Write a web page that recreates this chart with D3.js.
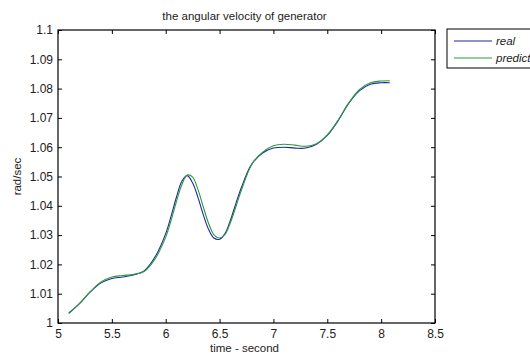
<!DOCTYPE html>
<html>
<head>
<meta charset="utf-8">
<script src="https://cdn.jsdelivr.net/npm/d3@7"></script>
<style>
	body { margin: 0; background: #fff; }
	svg { display: block; font-family: "Liberation Sans", Arial, sans-serif; }
</style>
</head>
<body>
<div id="chart"></div>
<script>
	'use strict';

	var time = [5.1, 5.2, 5.3, 5.4, 5.5, 5.6, 5.7, 5.8, 5.9, 6.0, 6.05, 6.1, 6.15, 6.2, 6.25,
		6.3, 6.35, 6.4, 6.45, 6.5, 6.55, 6.6, 6.7, 6.8, 6.9, 7.0, 7.1, 7.2, 7.3, 7.4,
		7.5, 7.6, 7.7, 7.8, 7.9, 8.0, 8.08];

	var real = [1.0034, 1.0066, 1.0106, 1.0137, 1.0152, 1.0157, 1.0164, 1.0178, 1.0225, 1.0305, 1.0365, 1.0430, 1.0484, 1.0503, 1.0478,
		1.0428, 1.0368, 1.0318, 1.0289, 1.0286, 1.0305, 1.0350, 1.0460, 1.0543, 1.0580, 1.0597, 1.0600, 1.0597, 1.0597, 1.0610,
		1.0640, 1.0690, 1.0750, 1.0793, 1.0815, 1.0820, 1.0820];

	var predict = [1.0032, 1.0067, 1.0107, 1.0140, 1.0157, 1.0162, 1.0166, 1.0176, 1.0218, 1.0293, 1.0350, 1.0415, 1.0472, 1.0505, 1.0498,
		1.0455, 1.0395, 1.0338, 1.0300, 1.0290, 1.0302, 1.0342, 1.0450, 1.0542, 1.0583, 1.0605, 1.0610, 1.0607, 1.0603, 1.0612,
		1.0642, 1.0692, 1.0752, 1.0797, 1.0820, 1.0826, 1.0827];

	var xTicks = [5, 5.5, 6, 6.5, 7, 7.5, 8, 8.5];
	var yTicks = [1, 1.01, 1.02, 1.03, 1.04, 1.05, 1.06, 1.07, 1.08, 1.09, 1.1];

	var series = [
		{name: 'real', values: real, color: '#1c2a9c'},
		{name: 'predict', values: predict, color: '#2f9a3c'}
	];

	var margin = {top: 30, right: 95, bottom: 33, left: 58};
	var width = 530, height = 356;
	var w = width - margin.left - margin.right,
		h = height - margin.top - margin.bottom;

	var svg = d3.select('#chart')
		.append('svg')
		.attr('width', width)
		.attr('height', height);

	var x = d3.scaleLinear().domain([5, 8.5]).range([0, w]);
	var y = d3.scaleLinear().domain([1, 1.1]).range([h, 0]);

	var cont = svg.append('g')
		.attr('transform', 'translate(' + margin.left + ',' + margin.top + ')');

	// matlab style: ticks inward on all four sides
	function styleAxis(g) {
		g.select('.domain').remove();
		g.selectAll('line').attr('stroke', '#000');
		g.selectAll('text').attr('fill', '#222').style('font-size', '12px');
	}

	cont.append('g')
		.attr('transform', 'translate(0,' + h + ')')
		.call(d3.axisBottom(x).tickValues(xTicks).tickFormat(d3.format('')).tickSizeInner(-4).tickSizeOuter(0).tickPadding(6))
		.call(styleAxis);

	cont.append('g')
		.call(d3.axisTop(x).tickValues(xTicks).tickFormat('').tickSizeInner(-4).tickSizeOuter(0))
		.call(styleAxis);

	cont.append('g')
		.call(d3.axisLeft(y).tickValues(yTicks).tickFormat(d3.format('')).tickSizeInner(-4).tickSizeOuter(0).tickPadding(5))
		.call(styleAxis);

	cont.append('g')
		.attr('transform', 'translate(' + w + ',0)')
		.call(d3.axisRight(y).tickValues(yTicks).tickFormat('').tickSizeInner(-4).tickSizeOuter(0))
		.call(styleAxis);

	cont.append('rect')
		.attr('x', 0).attr('y', 0)
		.attr('width', w).attr('height', h)
		.attr('fill', 'none')
		.attr('stroke', '#000')
		.attr('stroke-width', 1.2);

	var line = d3.line()
		.x(function(d, i) { return x(time[i]); })
		.y(function(d) { return y(d); })
		.curve(d3.curveCatmullRom);

	cont.selectAll('path.series')
		.data(series).enter()
		.append('path')
			.attr('class', 'series')
			.attr('fill', 'none')
			.attr('stroke', function(d) { return d.color; })
			.attr('stroke-width', 1.1)
			.attr('d', function(d) { return line(d.values); });

	// titles
	svg.append('text')
		.attr('x', margin.left + w / 2 - 2)
		.attr('y', 20)
		.attr('text-anchor', 'middle')
		.style('font-size', '11.5px')
		.attr('fill', '#222')
		.text('the angular velocity of generator');

	svg.append('text')
		.attr('x', margin.left + w / 2 - 2)
		.attr('y', 352)
		.attr('text-anchor', 'middle')
		.style('font-size', '11.5px')
		.attr('fill', '#222')
		.text('time - second');

	svg.append('text')
		.attr('transform', 'translate(21,' + (margin.top + h / 2) + ') rotate(-90)')
		.attr('text-anchor', 'middle')
		.style('font-size', '11.5px')
		.attr('fill', '#222')
		.text('rad/sec');

	// legend
	var legend = svg.append('g').attr('transform', 'translate(447,29)');
	legend.append('rect')
		.attr('x', 0).attr('y', 0)
		.attr('width', 100).attr('height', 39)
		.attr('fill', '#fff')
		.attr('stroke', '#000');

	var items = legend.selectAll('g.item')
		.data(series).enter()
		.append('g')
			.attr('class', 'item')
			.attr('transform', function(d, i) { return 'translate(0,' + (12 + i * 17) + ')'; });

	items.append('line')
		.attr('x1', 7).attr('x2', 45)
		.attr('y1', 0).attr('y2', 0)
		.attr('stroke', function(d) { return d.color; })
		.attr('stroke-width', 1.1);

	items.append('text')
		.attr('x', 49)
		.attr('y', 4)
		.style('font-size', '11.5px')
		.style('font-style', 'italic')
		.attr('fill', '#222')
		.text(function(d) { return d.name; });
</script>
</body>
</html>
